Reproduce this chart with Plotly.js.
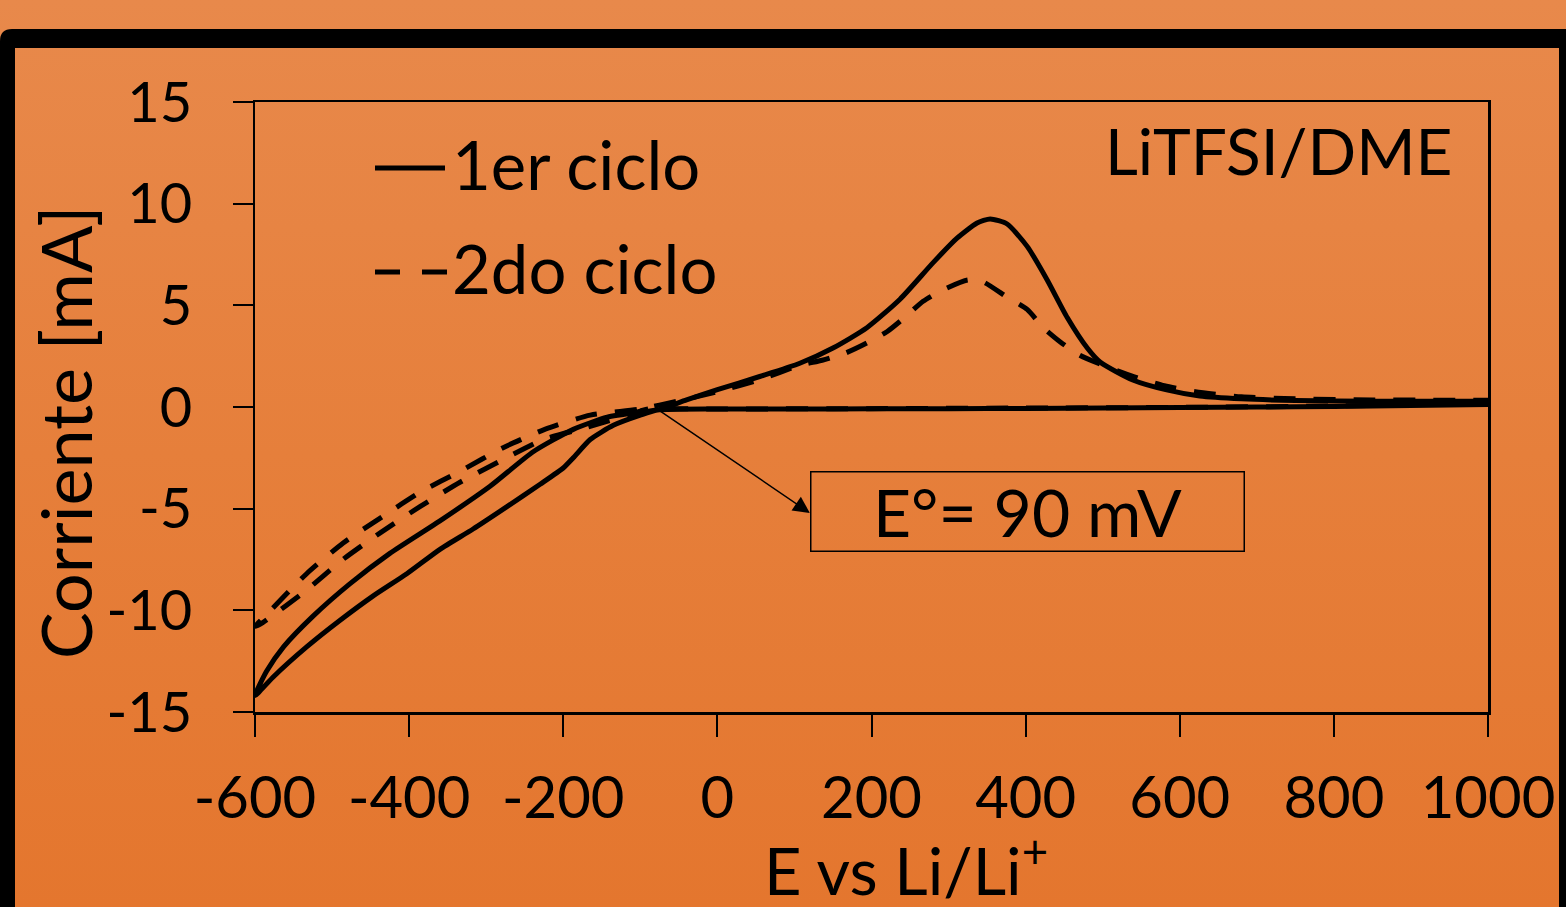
<!DOCTYPE html>
<html>
<head>
<meta charset="utf-8">
<script src="https://cdn.plot.ly/plotly-3.0.1.min.js"></script>
<style>
  html, body { margin: 0; padding: 0; }
  body { width: 1566px; height: 907px; overflow: hidden;
         background: linear-gradient(to bottom, #E8894B 0%, #E67F3B 50%, #E4762E 100%); }
  #chart { width: 1566px; height: 907px; }
</style>
</head>
<body>
<div id="chart"></div>
<script>
// ---- Data ----
// 1er ciclo (solid): cathodic baseline 1000 -> -80 mV, lower branch down to -600, return branch, anodic peak
const cycle1_E = [1000, 900, 800, 700, 600, 500, 400, 300, 200, 100, 0, -78,
  -100, -135, -165, -187, -200, -230, -273, -317, -360, -403, -447, -490, -533, -577, -600,
  -585, -563, -525, -477, -425, -360, -295, -239, -187, -143, -100, -78,
  -40, 0, 55, 107, 150, 194, 237, 280, 311, 337, 354, 376, 402, 428, 454, 480, 497, 539, 583, 626, 680, 750, 850, 1000];
const cycle1_I = [0.12, 0.07, 0.03, 0.0, -0.03, -0.05, -0.07, -0.08, -0.09, -0.1, -0.1, -0.15,
  -0.4, -0.9, -1.6, -2.5, -3.0, -3.8, -4.9, -6.0, -7.0, -8.2, -9.3, -10.5, -11.8, -13.3, -14.2,
  -13.0, -11.8, -10.3, -8.7, -7.2, -5.6, -3.9, -2.2, -1.1, -0.5, -0.25, -0.15,
  0.35, 0.85, 1.5, 2.15, 2.9, 3.9, 5.3, 7.1, 8.3, 9.05, 9.25, 9.0, 7.9, 6.25, 4.4, 2.9, 2.2, 1.33, 0.84, 0.54, 0.4, 0.32, 0.28, 0.28];

// 2do ciclo (dashed)
const cycle2_E = [1000, 800, 600, 400, 200, 0, -90,
  -100, -169, -226, -279, -334, -386, -438, -486, -533, -590, -600,
  -590, -533, -486, -435, -386, -331, -278, -224, -165, -100,
  -50, 0, 55, 107, 136, 166, 194, 220, 243, 267, 292, 325, 345, 376, 402, 423, 445, 470, 494, 540, 580, 620, 680, 750, 850, 1000];
const cycle2_I = [0.2, 0.05, -0.02, -0.05, -0.08, -0.1, -0.1,
  -0.2, -1.0, -1.6, -2.6, -3.7, -4.9, -6.2, -7.5, -9.0, -10.6, -10.8,
  -10.4, -8.2, -6.7, -5.4, -4.2, -3.1, -2.0, -1.1, -0.4, -0.1,
  0.3, 0.75, 1.35, 2.05, 2.3, 2.65, 3.15, 3.7, 4.4, 5.2, 5.75, 6.25, 6.15, 5.4, 4.8, 3.9, 3.2, 2.55, 2.15, 1.5, 1.05, 0.75, 0.5, 0.4, 0.35, 0.33];

const seriesNames = ["1er ciclo", "2do ciclo"];
const xTicks = [-600, -400, -200, 0, 200, 400, 600, 800, 1000];
const yTicks = [-15, -10, -5, 0, 5, 10, 15];
const xTitle = "E vs Li/Li<sup>+</sup>";
const yTitle = "Corriente [mA]";
const formalPotentialLabel = "E°= 90 mV";
const electrolyteLabel = "LiTFSI/DME";

// ---- Layout helpers ----
const W = 1566, H = 907;
const L = 255, R = 78, T = 102, B = 195;
const pw = W - L - R, ph = H - T - B;
const px = x => (x - L) / pw;        // pixel -> paper x
const py = y => (H - B - y) / ph;    // pixel -> paper y

const FONT = "Lato, 'Open Sans', sans-serif";

const traces = [
  { x: cycle1_E, y: cycle1_I, name: seriesNames[0], type: "scatter", mode: "lines",
    line: { color: "#000", width: 5, shape: "spline", smoothing: 0.6 }, showlegend: false },
  { x: cycle2_E, y: cycle2_I, name: seriesNames[1], type: "scatter", mode: "lines",
    line: { color: "#000", width: 5, dash: "22px,18px", shape: "spline", smoothing: 0.6 }, showlegend: false }
];

const shapes = [
  // black frame (top + left with rounded corner)
  { type: "path", xref: "paper", yref: "paper", layer: "below",
    path: `M ${px(0)},${py(960)} L ${px(0)},${py(41)} Q ${px(0)},${py(29)} ${px(12)},${py(29)} L ${px(1600)},${py(29)} L ${px(1600)},${py(48)} L ${px(15)},${py(48)} L ${px(15)},${py(960)} Z`,
    fillcolor: "#000", line: { width: 0 } },
  // right frame edge
  { type: "rect", xref: "paper", yref: "paper", layer: "below",
    x0: px(1559), x1: px(1600), y0: py(960), y1: py(29), fillcolor: "#000", line: { width: 0 } },
  // legend samples
  { type: "line", xref: "paper", yref: "paper", x0: px(375), x1: px(445), y0: py(168), y1: py(168),
    line: { color: "#000", width: 5 } },
  { type: "line", xref: "paper", yref: "paper", x0: px(375), x1: px(447), y0: py(272), y1: py(272),
    line: { color: "#000", width: 5, dash: "25px,22px" } }
];

const annotations = [
  { xref: "paper", yref: "paper", x: px(450), y: py(164), xanchor: "left", yanchor: "middle",
    text: seriesNames[0], showarrow: false, font: { family: FONT, size: 67, color: "#000" } },
  { xref: "paper", yref: "paper", x: px(450), y: py(268), xanchor: "left", yanchor: "middle",
    text: seriesNames[1], showarrow: false, font: { family: FONT, size: 67, color: "#000" } },
  { xref: "paper", yref: "paper", x: px(1455), y: py(150), xanchor: "right", yanchor: "middle",
    text: electrolyteLabel, showarrow: false, font: { family: FONT, size: 64, color: "#000" } },
  // x-axis title
  { xref: "paper", yref: "paper", x: px(906), y: py(866), xanchor: "center", yanchor: "middle",
    text: xTitle, showarrow: false, font: { family: FONT, size: 65, color: "#000" } },
  // y-axis title
  { xref: "paper", yref: "paper", x: px(65), y: py(432), xanchor: "center", yanchor: "middle",
    text: yTitle, textangle: -90, showarrow: false, font: { family: FONT, size: 70, color: "#000" } },
  // E° box
  { xref: "x", yref: "y", x: 402.5, y: -5.15, xanchor: "center", yanchor: "middle",
    text: formalPotentialLabel, showarrow: false, width: 432, height: 78, borderpad: 0,
    bordercolor: "#000", borderwidth: 1.5, font: { family: FONT, size: 66, color: "#000" } },
  // arrow from crossing point to box
  { xref: "x", yref: "y", x: 120, y: -5.21, axref: "x", ayref: "y", ax: -78, ay: -0.1,
    text: "", showarrow: true, arrowhead: 2, arrowsize: 2.2, arrowwidth: 1.5, arrowcolor: "#000", standoff: 0 }
];

const layout = {
  width: W, height: H, autosize: false,
  margin: { l: L, r: R, t: T, b: B, pad: 0 },
  paper_bgcolor: "rgba(0,0,0,0)", plot_bgcolor: "rgba(0,0,0,0)",
  font: { family: FONT, color: "#000" },
  showlegend: false,
  xaxis: {
    range: [-600, 1000], tickvals: xTicks, ticktext: xTicks.map(String),
    ticks: "outside", ticklen: 22, tickwidth: 2, tickcolor: "#000",
    showline: true, linecolor: "#000", linewidth: 2.5, mirror: true,
    showgrid: false, zeroline: false,
    tickfont: { family: FONT, size: 58, color: "#000" }, ticklabelstandoff: 12
  },
  yaxis: {
    range: [-15, 15], tickvals: yTicks, ticktext: yTicks.map(String),
    ticks: "outside", ticklen: 20, tickwidth: 2, tickcolor: "#000",
    showline: true, linecolor: "#000", linewidth: 2.5, mirror: true,
    showgrid: false, zeroline: false,
    tickfont: { family: FONT, size: 56, color: "#000" }, ticklabelstandoff: 29
  },
  shapes: shapes,
  annotations: annotations
};

Plotly.newPlot("chart", traces, layout, { displayModeBar: false, staticPlot: true });
</script>
</body>
</html>
